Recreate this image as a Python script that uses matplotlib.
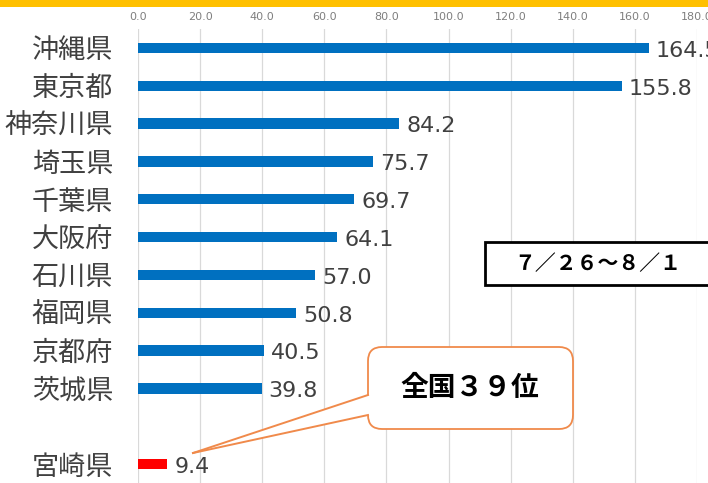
import numpy as np
import matplotlib.pyplot as plt
import matplotlib.transforms as mtransforms
from matplotlib.patches import FancyBboxPatch, Rectangle, Polygon

prefs = ['沖縄県', '東京都', '神奈川県', '埼玉県', '千葉県', '大阪府',
         '石川県', '福岡県', '京都府', '茨城県']
values = [164.5, 155.8, 84.2, 75.7, 69.7, 64.1, 57.0, 50.8, 40.5, 39.8]
hl_pref = '宮崎県'
hl_value = 9.4
period = '７／２６～８／１'
rank_text = '全国３９位'
xticks = [0, 20, 40, 60, 80, 100, 120, 140, 160, 180]

plt.rcParams['font.family'] = ['Noto Sans CJK JP', 'DejaVu Sans']

W, H = 708, 483
fig = plt.figure(figsize=(W / 100, H / 100), dpi=100)
ax = fig.add_axes([138 / W, 0, (697 - 138) / W, (H - 29) / H])

y = np.arange(len(prefs))
y_hl = len(prefs) + 1
ax.barh(y, values, height=0.27, color='#0070C0', zorder=3)
ax.barh([y_hl], [hl_value], height=0.27, color='#FF0000', zorder=3)

down = mtransforms.ScaledTranslation(0, -2 / 72, fig.dpi_scale_trans)
for yy, v in zip(list(y) + [y_hl], values + [hl_value]):
    ax.text(v + 2.3, yy, '%.1f' % v, va='center', ha='left', fontsize=16,
            color='#404040', family='DejaVu Sans', clip_on=False, zorder=4,
            transform=ax.transData + down)

ax.set_yticks(list(y) + [y_hl])
ax.set_yticklabels(prefs + [hl_pref], fontsize=19.5, color='#404040')
down2 = mtransforms.ScaledTranslation(0, -3 / 72, fig.dpi_scale_trans)
for lab in ax.get_yticklabels():
    lab.set_transform(lab.get_transform() + down2)
ax.set_ylim(y_hl + 0.5, -0.5)
ax.set_xlim(0, 180)
ax.set_xticks(xticks)
ax.set_xticklabels(['%.1f' % t for t in xticks], fontsize=8, color='#7F7F7F',
                   family='DejaVu Sans')
ax.xaxis.tick_top()
ax.tick_params(length=0, pad=5)
ax.tick_params(axis='y', pad=18)
ax.grid(axis='x', color='#D9D9D9', lw=0.9, zorder=0)
for s in ax.spines.values():
    s.set_visible(False)


def px(x, yy):
    return (x, H - yy)


# top orange band
fig.patches.append(Rectangle((0, H - 7), W, 7, transform=None,
                             facecolor='#FFC000', edgecolor='none'))

# period box
fig.patches.append(Rectangle(px(485, 285), 230, 43, transform=None,
                             facecolor='white', edgecolor='black', lw=2, zorder=5))
fig.text(598 / W, 1 - 264 / H, period, ha='center', va='center',
         fontsize=15, fontweight='bold', color='black', zorder=6)

# callout
orange = '#F08A4B'
fig.patches.append(FancyBboxPatch(px(368, 429), 205, 82, transform=None,
                                  boxstyle='round,pad=0,rounding_size=14',
                                  facecolor='white', edgecolor=orange,
                                  lw=1.3, zorder=5))
tip = px(193, 453)
fig.patches.append(Polygon([px(370, 395), tip, px(370, 415)], closed=True,
                           transform=None, facecolor='white',
                           edgecolor='none', zorder=5.5))
for p in (px(368, 395), px(368, 415)):
    fig.lines.append(plt.Line2D([p[0], tip[0]], [p[1], tip[1]], transform=None,
                                color=orange, lw=1.4, zorder=6))
fig.text(470 / W, 1 - 388 / H, rank_text, ha='center', va='center',
         fontsize=20, fontweight='bold', color='black', zorder=7)

fig.savefig('out.png', dpi=100)
